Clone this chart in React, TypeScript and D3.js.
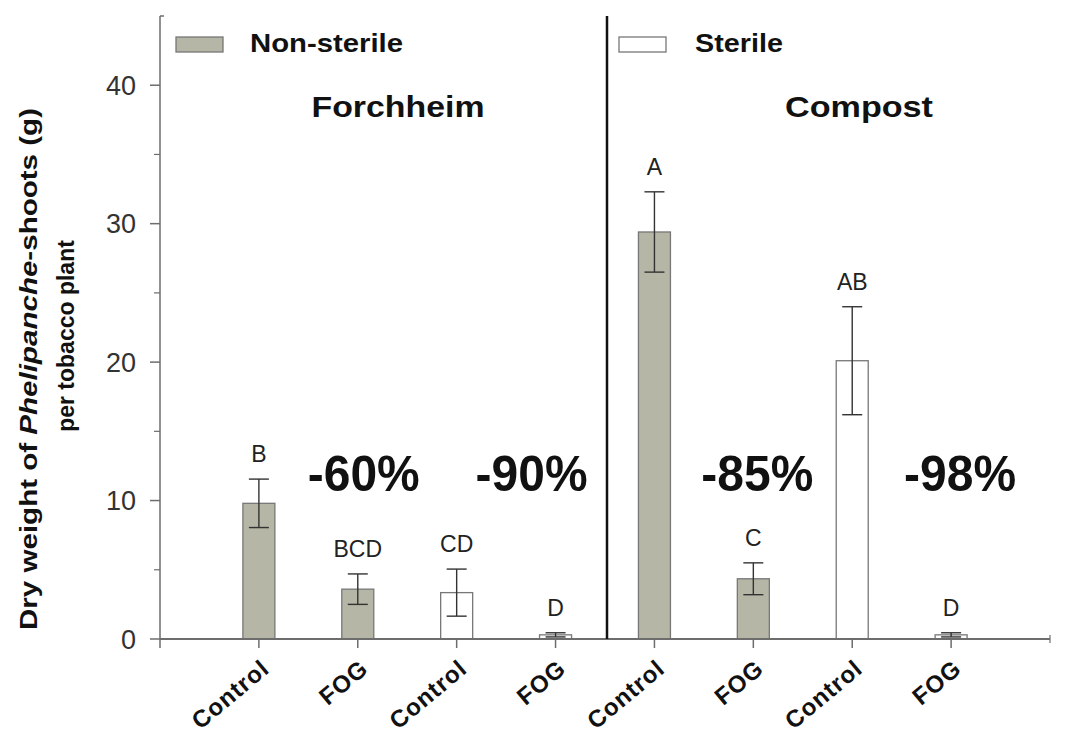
import React from 'react';
import * as d3 from 'd3';

// data
const groups = ['Forchheim', 'Compost'];
const treatments = ['Control', 'FOG', 'Control', 'FOG', 'Control', 'FOG', 'Control', 'FOG'];
const soil = ['non', 'non', 'ster', 'ster', 'non', 'non', 'ster', 'ster'];
const means = [9.8, 3.6, 3.35, 0.3, 29.4, 4.35, 20.1, 0.3];
const errs = [1.75, 1.1, 1.7, 0.15, 2.9, 1.15, 3.9, 0.15];
const letters = ['B', 'BCD', 'CD', 'D', 'A', 'C', 'AB', 'D'];
const reductions = ['-60%', '-90%', '-85%', '-98%'];
const reductionBars = [1, 3, 5, 7];
const yTicks = [0, 10, 20, 30, 40];
const yMinor = [5, 15, 25, 35];

const W = 1092;
const H = 738;
const margin = { top: 16, right: 42, bottom: 99, left: 160 };
const barFill = '#b5b6a6';
const font = 'Liberation Sans, Arial, Helvetica, sans-serif';

const App = () => {
  const ids = means.map((_, i) => String(i));
  const x = d3.scalePoint<string>()
    .domain(ids)
    .range([margin.left, W - margin.right])
    .padding(1);
  const y = d3.scaleLinear()
    .domain([0, 45])
    .range([H - margin.bottom, margin.top]);
  const y0 = y(0);
  const barW = 32;
  const capW = 20;
  const divX = (x('3')! + x('4')!) / 2 + 2;

  // small nudges for the reduction labels (-90% sits left of the divider)
  const pctNudge = [6, -24, 4, 9];
  const pctLen = 112;
  const titleX = [398, 859];
  const titleLen = [173, 148];

  return (
    <svg width={W} height={H} style={{ position: 'absolute', left: 0, top: 0, background: '#fff' }}
      fontFamily={font}>
      {/* y axis */}
      <line x1={margin.left} x2={margin.left} y1={y(45)} y2={y0} stroke="#6d6d6d" strokeWidth={1.5} />
      <line x1={margin.left} x2={margin.left + 4} y1={y(45)} y2={y(45)} stroke="#6d6d6d" strokeWidth={1.5} />
      {yTicks.map(t => (
        <g key={t}>
          <line x1={margin.left - 10} x2={margin.left} y1={y(t)} y2={y(t)} stroke="#6d6d6d" strokeWidth={1.5} />
          <text x={margin.left - 24} y={y(t)} dy="0.36em" textAnchor="end" fontSize={27} fill="#333">{t}</text>
        </g>
      ))}
      {yMinor.map(t => (
        <line key={t} x1={margin.left - 6} x2={margin.left} y1={y(t)} y2={y(t)} stroke="#6d6d6d" strokeWidth={1.2} />
      ))}

      {/* y label */}
      <text transform="translate(37, 369) rotate(-90)" textAnchor="middle" fontSize={24} fontWeight="bold"
        fill="#111" textLength={522} lengthAdjust="spacingAndGlyphs">
        Dry weight of <tspan fontStyle="italic">Phelipanche</tspan>-shoots (g)
      </text>
      <text transform="translate(74, 336) rotate(-90)" textAnchor="middle" fontSize={23} fontWeight="bold"
        fill="#111">
        per tobacco plant
      </text>

      {/* bars */}
      {means.map((m, i) => {
        const cx = x(String(i))!;
        return (
          <rect key={i} x={cx - barW / 2} y={y(m)} width={barW} height={y0 - y(m)}
            fill={soil[i] === 'non' ? barFill : '#fff'} stroke="#777" strokeWidth={1.3} />
        );
      })}

      {/* error bars */}
      {means.map((m, i) => {
        const cx = x(String(i))!;
        const hi = y(m + errs[i]);
        const lo = y(Math.max(0, m - errs[i]));
        return (
          <g key={i} stroke="#333" strokeWidth={1.4}>
            <line x1={cx} x2={cx} y1={hi} y2={lo} />
            <line x1={cx - capW / 2} x2={cx + capW / 2} y1={hi} y2={hi} />
            <line x1={cx - capW / 2} x2={cx + capW / 2} y1={lo} y2={lo} />
          </g>
        );
      })}

      {/* significance letters */}
      {letters.map((l, i) => (
        <text key={i} x={x(String(i))!} y={y(means[i] + errs[i]) - 17} textAnchor="middle"
          fontSize={23} fill="#222">{l}</text>
      ))}

      {/* x axis */}
      <line x1={margin.left} x2={W - margin.right} y1={y0} y2={y0} stroke="#6d6d6d" strokeWidth={2} />
      {[margin.left, ...ids.map(id => x(id)!)].map((tx, i) => (
        <line key={i} x1={tx} x2={tx} y1={y0} y2={y0 + 9} stroke="#6d6d6d" strokeWidth={1.5} />
      ))}
      <line x1={W - margin.right} x2={W - margin.right} y1={y0 - 4} y2={y0 + 4} stroke="#6d6d6d" strokeWidth={1.2} />
      {treatments.map((t, i) => (
        <text key={i} transform={`translate(${x(String(i))! + 12}, ${y0 + 32}) rotate(-40)`}
          textAnchor="end" fontSize={24} fontWeight="bold" fill="#111" letterSpacing={1}>{t}</text>
      ))}

      {/* divider */}
      <line x1={divX} x2={divX} y1={y(45)} y2={y0} stroke="#111" strokeWidth={2.5} />

      {/* legend */}
      <rect x={176} y={37} width={47} height={15} fill={barFill} stroke="#777" strokeWidth={1.3} />
      <text x={250} y={52} fontSize={26} fontWeight="bold" fill="#111" textLength={153}
        lengthAdjust="spacingAndGlyphs">Non-sterile</text>
      <rect x={619} y={37} width={47} height={15} fill="#fff" stroke="#777" strokeWidth={1.3} />
      <text x={695} y={52} fontSize={26} fontWeight="bold" fill="#111" textLength={88}
        lengthAdjust="spacingAndGlyphs">Sterile</text>

      {/* group titles */}
      {groups.map((g, i) => (
        <text key={g} x={titleX[i] - titleLen[i] / 2} y={117} fontSize={30} fontWeight="bold" fill="#111"
          textLength={titleLen[i]} lengthAdjust="spacingAndGlyphs">{g}</text>
      ))}

      {/* reduction percentages */}
      {reductions.map((r, i) => (
        <text key={r} x={x(String(reductionBars[i]))! + pctNudge[i] - pctLen / 2} y={491}
          fontSize={50} fontWeight="bold" fill="#111" textLength={pctLen}
          lengthAdjust="spacingAndGlyphs">{r}</text>
      ))}
    </svg>
  );
};

export default App;
